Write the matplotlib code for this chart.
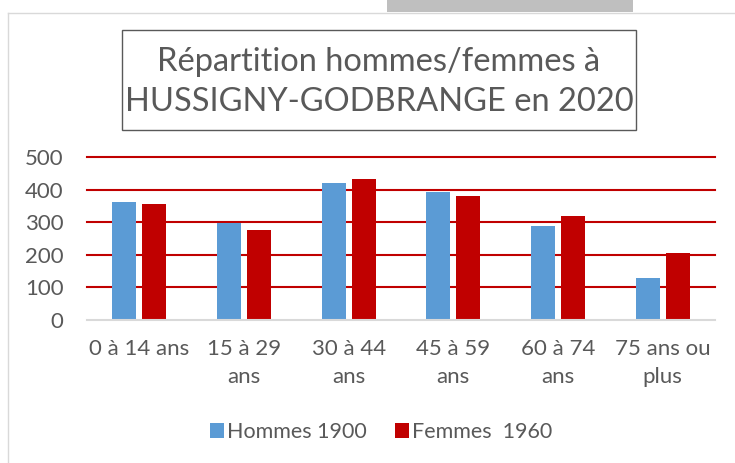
import matplotlib
matplotlib.use("Agg")
import matplotlib.pyplot as plt
from matplotlib.patches import Rectangle
import numpy as np

categories = ["0 à 14 ans", "15 à 29\nans", "30 à 44\nans", "45 à 59\nans", "60 à 74\nans", "75 ans ou\nplus"]
hommes = [363, 299, 421, 392, 288, 129]
femmes = [357, 276, 433, 379, 320, 206]
series_names = ["Hommes 1900", "Femmes  1960"]
yticks = [0, 100, 200, 300, 400, 500]
title = "Répartition hommes/femmes à\nHUSSIGNY-GODBRANGE en 2020"

plt.rcParams['font.family'] = ['Lato', 'DejaVu Sans']
W, H = 735, 463
fig = plt.figure(figsize=(W/100, H/100), dpi=100)
fig.patch.set_facecolor("white")

# decorative frame & top gray tab
fig.add_artist(Rectangle((387/W, 1-12/H), (633-387)/W, 12/H, transform=fig.transFigure,
                         facecolor="#BFBFBF", edgecolor="none"))
fig.add_artist(plt.Line2D([8/W, 8/W], [0, 1-13/H], transform=fig.transFigure, color="#D9D9D9", lw=1))
fig.add_artist(plt.Line2D([8/W, 1], [1-13/H, 1-13/H], transform=fig.transFigure, color="#D9D9D9", lw=1))

ax = fig.add_axes([87/W, 1-320/H, (715-87)/W, (320-157)/H])
x = np.arange(len(categories))
w = 0.23
off = 0.143
ax.bar(x - off, hommes, w, color="#5B9BD5", label=series_names[0], zorder=3)
ax.bar(x + off, femmes, w, color="#C00000", label=series_names[1], zorder=3)
ax.set_xlim(-0.5, len(categories) - 0.5)
ax.set_ylim(0, 500)
ax.set_yticks(yticks)
ax.set_xticks(x)
ax.set_xticklabels(categories, linespacing=1.45, va="top")
for s in ax.spines.values():
    s.set_visible(False)
for t in yticks[1:]:
    ax.axhline(t, color="#C00000", lw=1.5, zorder=1, clip_on=False)
ax.axhline(0, color="#D9D9D9", lw=1.5, zorder=4, clip_on=False)
ax.tick_params(axis="both", length=0, colors="#595959", labelsize=16)
ax.tick_params(axis="x", pad=14)
ax.tick_params(axis="y", pad=17)

# title box
fig.add_artist(Rectangle((122/W, 1-130/H), (636-122)/W, 100/H, transform=fig.transFigure,
                         facecolor="white", edgecolor="#595959", lw=1))
fig.text(379/W, 1-82/H, title, ha="center", va="center", fontsize=23.5, color="#595959",
         linespacing=1.4)

leg = fig.legend(loc="center", bbox_to_anchor=(381/W, 1-432/H), ncol=2, frameon=False,
                 fontsize=15.5, handlelength=0.65, handleheight=0.65, handletextpad=0.15,
                 columnspacing=1.3)
for t in leg.get_texts():
    t.set_color("#595959")

fig.savefig("out.png", dpi=100)
